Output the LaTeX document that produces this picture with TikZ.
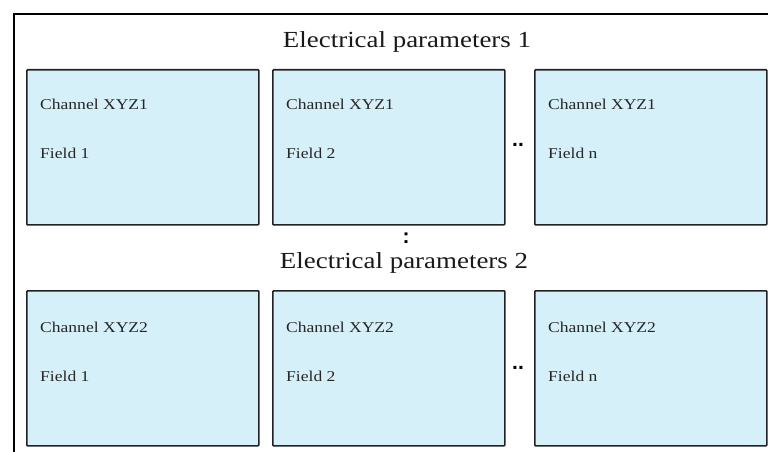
\documentclass[tikz,border=0pt]{standalone}
\usepackage{fontspec}
\setmainfont{Liberation Serif}[FakeStretch=1.17]
\newfontfamily\dotfont{Liberation Sans}
\definecolor{boxfill}{RGB}{214,240,249}
\definecolor{boxline}{RGB}{34,34,34}
\tikzset{
  chbox/.style={draw=boxline, line width=1.6pt, fill=boxfill, rounded corners=0.8pt,
    minimum width=232pt, minimum height=155pt, inner sep=0pt, anchor=north west},
  lbl/.style={anchor=west, inner sep=0pt, font=\fontsize{15}{17}\selectfont, text=black!85},
  title/.style={inner sep=0pt, font=\fontsize{23}{26}\selectfont, text=black!90},
  dots/.style={inner sep=0pt, font=\dotfont\fontsize{21}{24}\selectfont\bfseries}
}
\begin{document}
\begin{tikzpicture}[x=1pt,y=-1pt]
\useasboundingbox (0,0) rectangle (768,452);
\draw[line width=1.5pt] (14,452) -- (14,14) -- (770,14);
\node[title] (t1) at (407,42) {Electrical parameters 1};
\node[title] (t2) at (404,263) {Electrical parameters 2};
% row 1
\node[chbox] (a1) at (26,69) {};
\node[chbox] (b1) at (272,69) {};
\node[chbox] (c1) at (534,69) {};
\node[lbl] (a1c) at (40,104) {Channel XYZ1};
\node[lbl] (a1f) at (40,153) {Field 1};
\node[lbl] (b1c) at (286,104) {Channel XYZ1};
\node[lbl] (b1f) at (286,153) {Field 2};
\node[lbl] (c1c) at (548,104) {Channel XYZ1};
\node[lbl] (c1f) at (548,153) {Field n};
\node[dots] (d1) at (518,145) {..};
\node[dots] (v1) at (406,238) {:};
% row 2
\node[chbox] (a2) at (26,290) {};
\node[chbox] (b2) at (272,290) {};
\node[chbox] (c2) at (534,290) {};
\node[lbl] (a2c) at (40,327) {Channel XYZ2};
\node[lbl] (a2f) at (40,376) {Field 1};
\node[lbl] (b2c) at (286,327) {Channel XYZ2};
\node[lbl] (b2f) at (286,376) {Field 2};
\node[lbl] (c2c) at (548,327) {Channel XYZ2};
\node[lbl] (c2f) at (548,376) {Field n};
\node[dots] (d2) at (518,368) {..};
\end{tikzpicture}
\end{document}
